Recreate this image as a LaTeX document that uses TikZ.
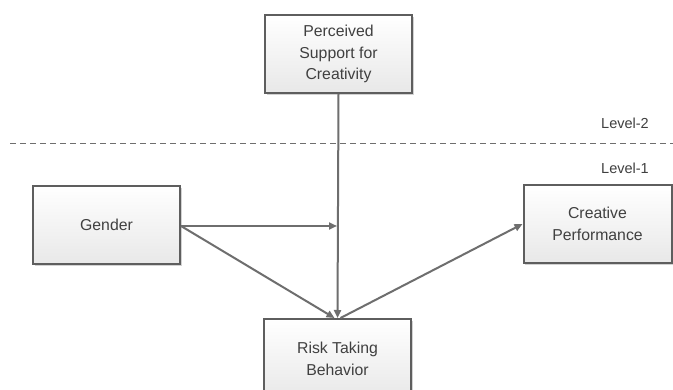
\documentclass[tikz,border=0pt]{standalone}
\usepackage{fontspec}
\setmainfont{Liberation Sans}
\usetikzlibrary{arrows.meta,shadows}
\definecolor{linegray}{HTML}{6E6E6E}
\definecolor{boxgray}{HTML}{5E5E5E}
\definecolor{txtgray}{HTML}{404040}
\tikzset{
  varbox/.style={draw=boxgray, line width=2pt, top color=white, bottom color=black!9,
    minimum width=147pt, minimum height=78pt, align=center, text=txtgray,
    font=\fontsize{15.8}{21.5}\selectfont, inner sep=0pt,
    drop shadow={shadow xshift=1.8pt, shadow yshift=-1.8pt, fill=black!35, opacity=.5}},
  conn/.style={draw=linegray, line width=2pt},
  arr/.style={conn, -{Triangle[length=8pt,width=7pt]}},
  lvl/.style={text=txtgray, font=\fontsize{14.5}{17}\selectfont, inner sep=0pt}
}
\begin{document}
\begin{tikzpicture}[x=1pt,y=-1pt]
\useasboundingbox (0,0) rectangle (673,390);
\clip (0,0) rectangle (673,390);
\fill[white] (0,0) rectangle (673,390);
\node[varbox] (psc) at (338.5,54) {Perceived\\Support for\\Creativity};
\node[varbox] (gen) at (106.5,225) {Gender};
\node[varbox, minimum width=148pt] (cre) at (597.5,224) {Creative\\Performance};
\node[varbox, minimum height=80pt] (rtb) at (337.5,359) {Risk Taking\\Behavior};
\coordinate (dl) at (10,143);
\coordinate (dr) at (673,143);
\draw[draw=linegray, line width=0.9pt, dash pattern=on 6pt off 4pt] (dl) -- (dr);
\node[lvl] (l2) at (625,123) {Level-2};
\node[lvl] (l1) at (625,168) {Level-1};
\coordinate (mid) at (337,226);
\coordinate (rtbL) at ([xshift=-3pt]rtb.north);
\coordinate (rtbR) at ([xshift=3pt]rtb.north);
\draw[arr] (psc.south) -- (rtb.north);
\draw[arr] (gen.east |- mid) -- (mid);
\draw[arr] (gen.east |- mid) -- (rtbL);
\draw[arr] (rtbR) -- (cre.west);
\end{tikzpicture}
\end{document}
